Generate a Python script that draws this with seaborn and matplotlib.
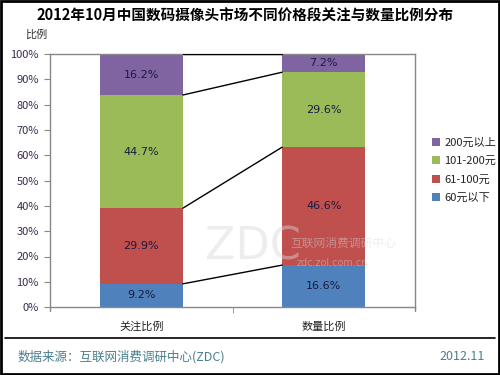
import numpy as np
import pandas as pd
import matplotlib
matplotlib.use('Agg')
import matplotlib.pyplot as plt
import seaborn as sns

# 数据
categories = ['关注比例', '数量比例']
segments = ['60元以下', '61-100元', '101-200元', '200元以上']
seg_colors = ['#4F81BD', '#C0504D', '#9BBB59', '#8064A2']
val_60 = [9.2, 16.6]
val_61_100 = [29.9, 46.6]
val_101_200 = [44.7, 29.6]
val_200 = [16.2, 7.2]
yticks = [0, 10, 20, 30, 40, 50, 60, 70, 80, 90, 100]

sns.set_style('white')
plt.rcParams['font.family'] = ['Noto Sans CJK SC', 'DejaVu Sans']

series = [val_60, val_61_100, val_101_200, val_200]
cum = np.cumsum(np.array(series), axis=0)

fig = plt.figure(figsize=(5, 3.75), dpi=100)
ax = fig.add_axes([0.1, 0.181, 0.73, 0.675])

bar_w = 0.456
# 堆叠: 先画累计值最大的，再覆盖较小的
for i in range(len(segments) - 1, -1, -1):
    df = pd.DataFrame({'cat': categories, 'val': cum[i]})
    sns.barplot(data=df, x='cat', y='val', color=seg_colors[i], width=bar_w,
                saturation=1, linewidth=0, ax=ax, label=segments[i])

# 数值标签
for i in range(len(segments)):
    for j in range(len(categories)):
        base = cum[i][j] - series[i][j]
        ax.text(j, base + series[i][j] / 2, f'{series[i][j]:.1f}%', ha='center', va='center',
                fontsize=8, color='#1a1a40', family=['DejaVu Sans'])

# 连接线
for i in range(len(segments)):
    ax.plot([bar_w / 2, 1 - bar_w / 2], [cum[i][0], cum[i][1]], color='black', lw=1, zorder=3)

ax.set_xlim(-0.5, 1.5)
ax.set_ylim(0, 100)
ax.set_yticks(yticks)
ax.set_yticklabels([f'{t}%' for t in yticks], fontsize=8, color='#3a2a4a')
ax.set_xticks([0, 1])
ax.set_xticklabels(categories, fontsize=8, color='#222222')
ax.set_xlabel('')
ax.set_ylabel('')
ax.set_xticks([0.5], minor=True)
ax.tick_params(axis='y', which='major', direction='out', length=4, color='#888888', left=True, pad=4)
ax.tick_params(axis='x', which='major', length=0, pad=10)
ax.tick_params(axis='x', which='minor', direction='out', length=4, color='#888888', bottom=True)
for s in ax.spines.values():
    s.set_color('#888888')
    s.set_linewidth(1)
# x轴两端刻度
ax.plot([-0.5, -0.5], [0, -1.6], color='#888888', lw=1, clip_on=False)
ax.plot([1.5, 1.5], [0, -1.6], color='#888888', lw=1, clip_on=False)

# 图例
handles, labels = ax.get_legend_handles_labels()
ax.legend(handles, labels, loc='center left', bbox_to_anchor=(1.02, 0.54), frameon=False,
          fontsize=8, handlelength=0.7, handleheight=0.7, handletextpad=0.4, labelspacing=0.75,
          labelcolor='#222222')

# 水印
wm = dict(color='#d8d8d8', alpha=0.45, zorder=5, va='center')
fig.text(0.505, 0.34, 'ZDC', fontsize=32, ha='center', family=['DejaVu Sans'], **wm)
fig.text(0.58, 0.35, '互联网消费调研中心', fontsize=8.5, ha='left', **wm)
fig.text(0.594, 0.30, 'zdc.zol.com.cn', fontsize=7, ha='left', family=['DejaVu Sans'], **wm)

fig.text(0.49, 0.958, '2012年10月中国数码摄像头市场不同价格段关注与数量比例分布', fontsize=10.5,
         fontweight='bold', ha='center', va='center', color='black')
fig.text(0.05, 0.908, '比例', fontsize=8, ha='left', va='center', color='#333333')
fig.text(0.036, 0.048, '数据来源：互联网消费调研中心(ZDC)', fontsize=9, ha='left', va='center',
         color='#4a7f8f')
fig.text(0.97, 0.048, '2012.11', fontsize=9, ha='right', va='center', color='#4a7f8f')

# 分隔线与外框
fig.add_artist(plt.Line2D([0.01, 0.99], [0.099, 0.099], color='black', lw=1.2))
fig.add_artist(plt.Rectangle((0.002, 0.003), 0.996, 0.994, fill=False, edgecolor='black', lw=2))

fig.savefig('out.png', dpi=100)
